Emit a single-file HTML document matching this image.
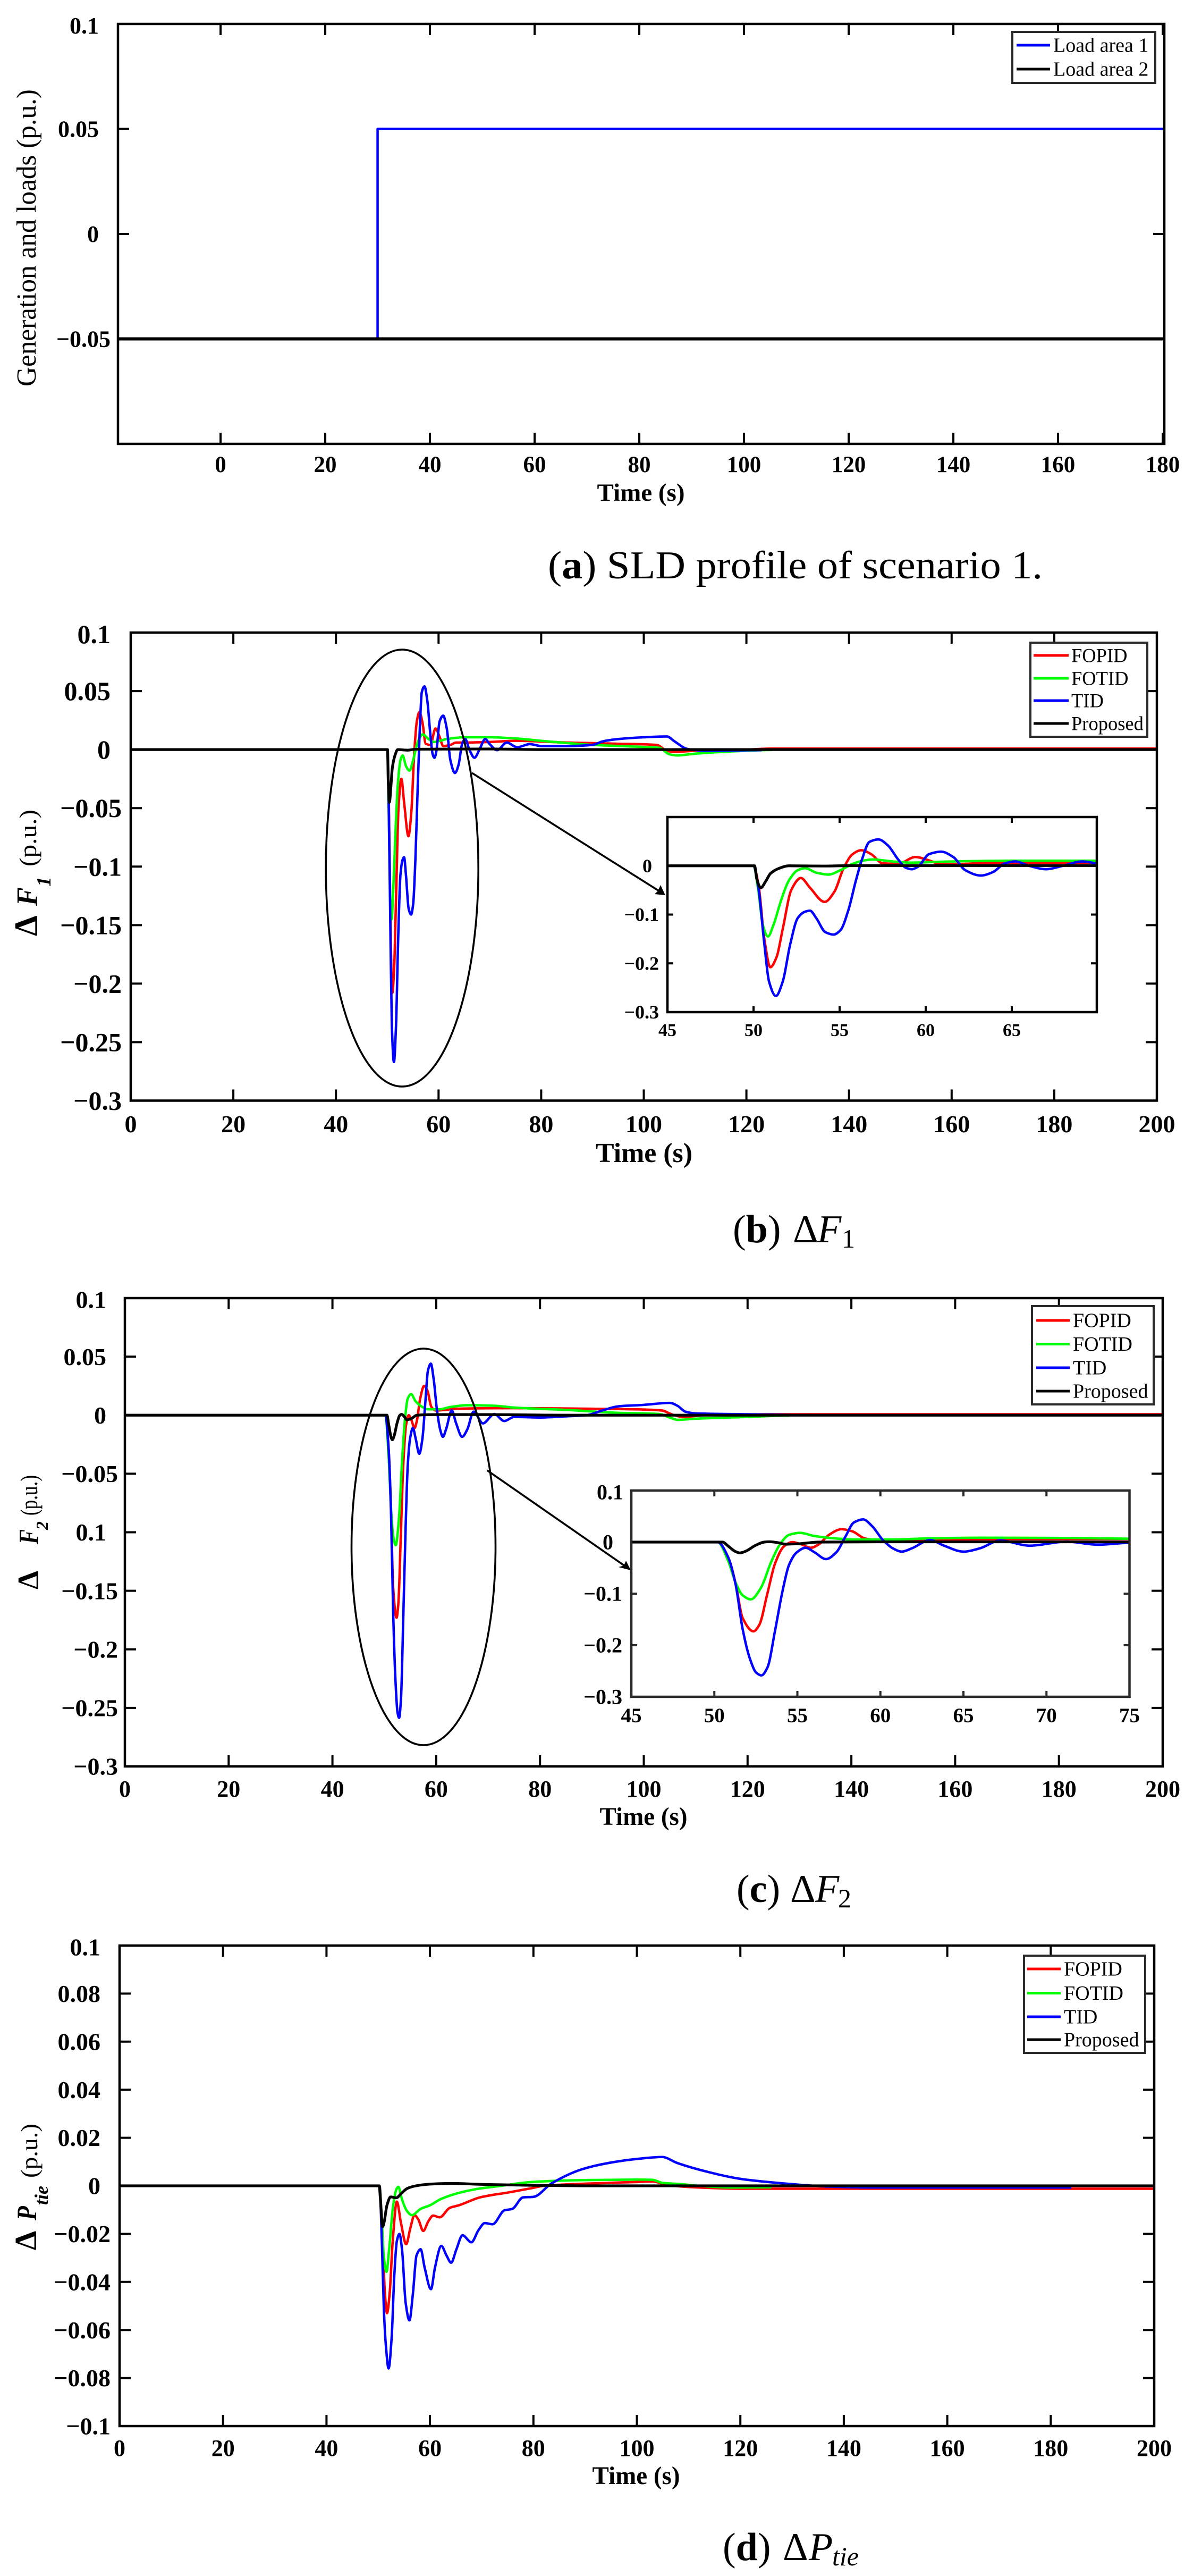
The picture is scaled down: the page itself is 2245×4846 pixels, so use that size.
<!DOCTYPE html>
<html lang="en">
<head>
<meta charset="utf-8">
<title>SLD response charts</title>
<style>
html,body{margin:0;padding:0;background:#fff}
svg{display:block}
text{font-family:"Liberation Serif",serif;fill:#000}
</style>
</head>
<body>
<svg id="page" xmlns="http://www.w3.org/2000/svg" width="2245" height="4846" viewBox="0 0 2245 4846">
<rect x="0" y="0" width="2245" height="4846" fill="#fff"/>

<g id="chart-a"></g>
<g id="chart-b"></g>
<g id="chart-c"></g>
<g id="chart-d"></g>

<g>
  <ellipse cx="756.7" cy="1633" rx="143.5" ry="411" fill="none" stroke="#000" stroke-width="3.6"/>
  <line x1="888" y1="1454" x2="1240" y2="1676" stroke="#000" stroke-width="3.6"/>
  <polygon points="1252,1684 1232,1682 1238,1676 1243,1665" fill="#000"/>
</g>
<g>
  <ellipse cx="797" cy="2910" rx="135.5" ry="373" fill="none" stroke="#000" stroke-width="3.6"/>
  <line x1="916.7" y1="2766" x2="1176" y2="2946" stroke="#000" stroke-width="3.6"/>
  <polygon points="1187,2954 1164,2948 1174,2945 1178,2936" fill="#000"/>
</g>

<g id="insets"></g>

<text transform="translate(67,447.5) rotate(-90) scale(1,1.3)" text-anchor="middle" font-size="40" textLength="559" lengthAdjust="spacingAndGlyphs">Generation and loads (p.u.)</text>

<g>
  <text transform="translate(70,1761) rotate(-90)" font-size="62" font-weight="bold">&#916;</text>
  <text transform="translate(70,1704) rotate(-90) scale(1,1.08)" font-size="52" font-weight="bold" font-style="italic">F</text>
  <text transform="translate(95,1668) rotate(-90)" font-size="38" font-weight="bold" font-style="italic">1</text>
  <text transform="translate(68,1630) rotate(-90)" font-size="46" textLength="107" lengthAdjust="spacingAndGlyphs">(p.u.)</text>
</g>
<g>
  <text transform="translate(72,2990) rotate(-90)" font-size="56" font-weight="bold">&#916;</text>
  <text transform="translate(72,2905) rotate(-90) scale(1,1.25)" font-size="42" font-weight="bold" font-style="italic">F</text>
  <text transform="translate(90,2878) rotate(-90)" font-size="32" font-weight="bold" font-style="italic">2</text>
  <text transform="translate(70,2851) rotate(-90) scale(1,1.25)" font-size="36" textLength="76" lengthAdjust="spacingAndGlyphs">(p.u.)</text>
</g>
<g>
  <text transform="translate(68,4233) rotate(-90)" font-size="58" font-weight="bold">&#916;</text>
  <text transform="translate(68,4177) rotate(-90) scale(1,1.2)" font-size="44" font-weight="bold" font-style="italic">P</text>
  <text transform="translate(90,4148) rotate(-90)" font-size="36" font-weight="bold" font-style="italic">tie</text>
  <text transform="translate(70,4097) rotate(-90)" font-size="44" textLength="102" lengthAdjust="spacingAndGlyphs">(p.u.)</text>
</g>

<text x="1031" y="1088" font-size="74" textLength="931" lengthAdjust="spacingAndGlyphs">(<tspan font-weight="bold">a</tspan>) SLD profile of scenario 1.</text>
<text y="2337" font-size="74"><tspan x="1379">(<tspan font-weight="bold">b</tspan>)</tspan><tspan x="1492">&#916;</tspan><tspan x="1538" font-style="italic">F</tspan><tspan x="1584" dy="10" font-size="50">1</tspan></text>
<text y="3578" font-size="74"><tspan x="1386">(<tspan font-weight="bold">c</tspan>)</tspan><tspan x="1487">&#916;</tspan><tspan x="1534" font-style="italic">F</tspan><tspan x="1577" dy="10" font-size="50">2</tspan></text>
<text y="4816" font-size="74"><tspan x="1360">(<tspan font-weight="bold">d</tspan>)</tspan><tspan x="1473">&#916;</tspan><tspan x="1522" font-style="italic">P</tspan><tspan x="1566" dy="10" font-size="50" font-style="italic">tie</tspan></text>
</svg>

<script>
/* ---------- chart a: load profiles ---------- */
const loadArea1T = [-20, 30, 30, 180];
const loadArea1V = [-0.05, -0.05, 0.05, 0.05];
const loadArea2T = [-20, 180];
const loadArea2V = [-0.05, -0.05];
const aXTicks = [0, 20, 40, 60, 80, 100, 120, 140, 160, 180];
const aXLabels = ['0', '20', '40', '60', '80', '100', '120', '140', '160', '180'];
const aYTicks = [0.1, 0.05, 0, -0.05];
const aYLabels = ['0.1', '0.05', '0', '\u22120.05'];

/* ---------- chart b: delta F1 ---------- */
const f1FopidT = [0, 50, 50.3, 50.63, 50.98, 51.34, 51.7, 52.2, 52.75, 53.28, 54.13, 54.7, 55.23, 55.76, 56.26, 56.83, 57.5, 58.4, 59.4, 60.2, 60.9, 62.3, 63.4, 65, 70, 75, 85, 95, 102.5, 104.5, 106, 110, 120, 125, 200];
const f1FopidV = [0, 0, -0.042, -0.15, -0.208, -0.187, -0.129, -0.049, -0.025, -0.045, -0.074, -0.053, -0.005, 0.024, 0.032, 0.024, 0.005, 0.004, 0.018, 0.011, 0.003, 0.004, 0.006, 0.006, 0.0065, 0.0075, 0.006, 0.005, 0.004, -0.001, -0.002, -0.001, 0, 0.0008, 0.0008];
const f1FotidT = [0, 50, 50.27, 50.54, 50.84, 51.16, 51.6, 52.04, 52.57, 53, 53.64, 54.34, 55.05, 55.76, 56.3, 56.9, 58.06, 59.1, 61.6, 65, 70, 75, 80, 90, 100, 103, 105, 106.5, 110, 120, 125];
const f1FotidV = [0, 0, -0.049, -0.121, -0.145, -0.121, -0.071, -0.031, -0.009, -0.005, -0.014, -0.018, -0.009, 0.004, 0.01, 0.013, 0.009, 0.0065, 0.009, 0.0105, 0.0105, 0.0095, 0.0075, 0.004, 0.0022, 0.0015, -0.004, -0.005, -0.0035, -0.001, -0.0003];
const f1TidT = [0, 50, 50.27, 50.63, 50.9, 51.3, 51.7, 52.13, 52.57, 53, 53.28, 53.64, 54.17, 54.65, 55.05, 55.5, 55.94, 56.3, 56.73, 57.26, 57.8, 58.4, 58.85, 59.2, 59.55, 60.2, 60.9, 61.6, 62.3, 63.2, 63.9, 64.6, 65.2, 66, 67, 67.97, 69.1, 69.9, 71.4, 73.3, 75.3, 77.8, 80, 85, 90, 92, 95, 100, 104.5, 106, 108.5, 112, 123];
const f1TidV = [0, 0, -0.042, -0.161, -0.237, -0.267, -0.237, -0.161, -0.107, -0.094, -0.092, -0.107, -0.136, -0.141, -0.132, -0.092, -0.031, 0.013, 0.049, 0.054, 0.042, 0.013, -0.004, -0.007, -0.002, 0.024, 0.029, 0.018, -0.009, -0.02, -0.013, 0.005, 0.009, 0, -0.007, 0, 0.009, 0.005, -0.0005, 0.006, 0.002, 0.0047, 0.003, 0.003, 0.004, 0.007, 0.009, 0.0105, 0.0112, 0.007, 0.0005, -0.001, -0.0005];
const f1ProposedT = [0, 50.06, 50.19, 50.42, 50.72, 50.98, 51.5, 52.04, 54, 55.5, 70, 80, 200];
const f1ProposedV = [0, 0, -0.027, -0.045, -0.031, -0.016, -0.005, 0, -0.0005, 0.0003, 0.0005, 0, 0];

/* ---------- chart c: delta F2 ---------- */
const f2FopidT = [0, 50.2, 50.84, 51.28, 51.7, 52.36, 52.7, 53.2, 53.66, 54.2, 54.7, 55.2, 55.82, 56.26, 56.9, 57.66, 58.3, 59.07, 59.9, 61.67, 63.8, 75, 90, 100, 103.5, 105.5, 107.5, 112, 125, 200];
const f2FopidV = [0, 0, -0.03, -0.08, -0.147, -0.173, -0.161, -0.099, -0.041, -0.008, 0, -0.004, -0.011, -0.005, 0.014, 0.025, 0.021, 0.007, 0.004, 0.0045, 0.0055, 0.006, 0.0055, 0.0048, 0.004, 0.0005, -0.0015, 0, 0.0008, 0.0008];
const f2FotidT = [0, 50.2, 50.84, 51.28, 51.7, 52.2, 52.8, 53.44, 53.98, 54.5, 55.17, 56, 57.34, 58.4, 60.6, 62.75, 66, 71.4, 75, 85, 95, 103, 105, 106.5, 110, 120, 128];
const f2FotidV = [0, 0, -0.037, -0.0785, -0.103, -0.111, -0.089, -0.037, -0.003, 0.014, 0.018, 0.012, 0.007, 0.005, 0.005, 0.007, 0.0085, 0.008, 0.0065, 0.0045, 0.002, 0.001, -0.002, -0.004, -0.003, -0.0015, -0.0003];
const f2TidT = [0, 50.2, 50.84, 51.28, 51.7, 52.14, 52.53, 52.84, 53.2, 53.66, 54.1, 54.5, 54.96, 55.5, 56.04, 56.73, 57.34, 57.9, 58.4, 58.96, 59.5, 60.15, 60.8, 61.28, 61.9, 63, 63.8, 65, 66, 67.2, 69, 71.2, 73.1, 75, 80, 85, 89, 92, 95, 100, 105, 106.5, 108, 110, 120, 133];
const f2TidV = [0, 0, -0.03, -0.082, -0.168, -0.226, -0.2535, -0.2585, -0.243, -0.171, -0.096, -0.044, -0.02, -0.011, -0.02, -0.033, -0.02, 0.011, 0.038, 0.044, 0.031, 0.004, -0.013, -0.0185, -0.012, 0.004, -0.0065, -0.0185, -0.012, 0.003, -0.007, 0.001, -0.005, -0.0015, -0.002, -0.001, 0, 0.004, 0.0075, 0.0088, 0.0105, 0.008, 0.003, 0.0015, 0.0008, 0];
const f2ProposedT = [0, 50.5, 50.84, 51.28, 51.54, 51.9, 52.47, 53, 53.33, 53.87, 54.3, 55.17, 56.26, 60, 70, 85, 200];
const f2ProposedV = [0, 0, -0.008, -0.0185, -0.021, -0.0175, -0.0065, 0, 0.0007, -0.0014, -0.004, -0.003, 0, 0.0005, 0.0005, 0, 0];

/* ---------- chart d: delta Ptie ---------- */
const ptFopidT = [0, 50.25, 50.7, 51.3, 51.7, 52.2, 52.8, 53.6, 54.4, 55.4, 56.2, 57, 57.75, 58.7, 59.7, 60.6, 61.9, 63.8, 65.6, 69.7, 75.6, 79.6, 82, 90, 100, 103, 106, 110, 120, 200];
const ptFopidV = [0, 0, -0.015, -0.045, -0.053, -0.045, -0.023, -0.0066, -0.0155, -0.0243, -0.0177, -0.0122, -0.014, -0.0188, -0.0147, -0.0124, -0.0131, -0.0092, -0.0081, -0.0048, -0.0026, -0.001, 0, 0.0009, 0.0016, 0.0018, 0.0003, -0.0005, -0.0012, -0.0012];
const ptFotidT = [0, 50.25, 50.7, 51.1, 51.6, 52.1, 52.9, 53.5, 53.9, 54.5, 55.5, 56.5, 58.2, 60, 62.1, 66.2, 69.7, 73.8, 79.6, 90, 100, 103, 105, 108, 112, 118, 126];
const ptFotidV = [0, 0, -0.0155, -0.03, -0.0358, -0.0265, -0.008, -0.0015, -0.0004, -0.005, -0.0103, -0.0122, -0.0096, -0.0081, -0.0055, -0.0026, -0.0011, 0, 0.0016, 0.0024, 0.0026, 0.0025, 0.0012, 0.0008, 0, -0.0007, -0.0006];
const ptTidT = [0, 50.25, 50.7, 51.1, 51.5, 52, 52.6, 53.1, 53.6, 54.1, 54.6, 55.3, 56.03, 56.7, 57.4, 58.2, 58.97, 60.2, 60.97, 62.2, 63.2, 64.1, 65.1, 66.3, 68, 69.4, 70.6, 72.1, 74.4, 75.9, 78, 80, 83.5, 89.4, 94.5, 100.5, 104.9, 107.8, 113.7, 120.3, 128.4, 137, 145, 184];
const ptTidV = [0, 0, -0.023, -0.052, -0.067, -0.076, -0.063, -0.0376, -0.023, -0.02, -0.0265, -0.0487, -0.056, -0.045, -0.029, -0.0264, -0.034, -0.043, -0.034, -0.025, -0.029, -0.032, -0.0265, -0.0206, -0.0235, -0.0184, -0.0155, -0.016, -0.0102, -0.0096, -0.0048, -0.0046, 0.001, 0.0069, 0.0095, 0.0113, 0.012, 0.0095, 0.0058, 0.0028, 0.001, -0.0003, -0.0007, -0.0007];
const ptProposedT = [0, 50.2, 50.4, 50.85, 51.1, 51.7, 52.4, 53.5, 54.4, 55.6, 57.3, 60, 64.1, 70, 80, 90, 200];
const ptProposedV = [0, 0, -0.005, -0.017, -0.0155, -0.008, -0.0046, -0.005, -0.0033, -0.0011, 0, 0.0007, 0.001, 0.0006, 0.0002, 0, 0];

/* ---------- tick labels ---------- */
const mainXTicks = [0, 20, 40, 60, 80, 100, 120, 140, 160, 180, 200];
const mainXLabels = ['0', '20', '40', '60', '80', '100', '120', '140', '160', '180', '200'];
const fYTicks = [0.1, 0.05, 0, -0.05, -0.1, -0.15, -0.2, -0.25, -0.3];
const f1YLabels = ['0.1', '0.05', '0', '\u22120.05', '\u22120.1', '\u22120.15', '\u22120.2', '\u22120.25', '\u22120.3'];
const f2YLabels = ['0.1', '0.05', '0', '\u22120.05', '0.1', '\u22120.15', '\u22120.2', '\u22120.25', '\u22120.3'];
const ptYTicks = [0.1, 0.08, 0.06, 0.04, 0.02, 0, -0.02, -0.04, -0.06, -0.08, -0.1];
const ptYLabels = ['0.1', '0.08', '0.06', '0.04', '0.02', '0', '\u22120.02', '\u22120.04', '\u22120.06', '\u22120.08', '\u22120.1'];
const insetBXTicks = [45, 50, 55, 60, 65];
const insetBXLabels = ['45', '50', '55', '60', '65'];
const insetBYTicks = [0, -0.1, -0.2, -0.3];
const insetBYLabels = ['0', '\u22120.1', '\u22120.2', '\u22120.3'];
const insetCXTicks = [45, 50, 55, 60, 65, 70, 75];
const insetCXLabels = ['45', '50', '55', '60', '65', '70', '75'];
const insetCYTicks = [0.1, 0, -0.1, -0.2, -0.3];
const insetCYLabels = ['0.1', '0', '\u22120.1', '\u22120.2', '\u22120.3'];
const legendNames = ['FOPID', 'FOTID', 'TID', 'Proposed'];
const legendColors = ['#ff0000', '#00ff00', '#0000ff', '#000000'];
const loadNames = ['Load area 1', 'Load area 2'];
const loadColors = ['#0000ff', '#000000'];

const NS = 'http://www.w3.org/2000/svg';
function mk(tag, attrs, parent) {
  const n = document.createElementNS(NS, tag);
  for (const k in attrs) n.setAttribute(k, attrs[k]);
  parent.appendChild(n);
  return n;
}

/* Monotone cubic path through the data points: no overshoot between samples. */
function smoothPath(ts, vs, sx, sy) {
  const n = ts.length;
  const m = [];
  for (let i = 0; i < n; i++) {
    if (i === 0 || i === n - 1) { m.push(0); continue; }
    const h0 = ts[i] - ts[i - 1], h1 = ts[i + 1] - ts[i];
    const d0 = (vs[i] - vs[i - 1]) / h0, d1 = (vs[i + 1] - vs[i]) / h1;
    if (d0 * d1 <= 0) { m.push(0); continue; }
    const w0 = 2 * h1 + h0, w1 = h1 + 2 * h0;
    m.push((w0 + w1) / (w0 / d0 + w1 / d1));
  }
  let d = 'M' + sx(ts[0]).toFixed(2) + ' ' + sy(vs[0]).toFixed(2);
  for (let i = 0; i < n - 1; i++) {
    const h = ts[i + 1] - ts[i];
    d += 'C' + sx(ts[i] + h / 3).toFixed(2) + ' ' + sy(vs[i] + m[i] * h / 3).toFixed(2) + ' ' +
      sx(ts[i + 1] - h / 3).toFixed(2) + ' ' + sy(vs[i + 1] - m[i + 1] * h / 3).toFixed(2) + ' ' +
      sx(ts[i + 1]).toFixed(2) + ' ' + sy(vs[i + 1]).toFixed(2);
  }
  return d;
}
function linearPath(ts, vs, sx, sy) {
  return ts.map((t, i) => (i ? 'L' : 'M') + sx(t).toFixed(2) + ' ' + sy(vs[i]).toFixed(2)).join('');
}

let clipCount = 0;
function drawAxes(g, c) {
  const sx = t => c.left + (t - c.xmin) / (c.xmax - c.xmin) * (c.right - c.left);
  const sy = v => c.bottom - (v - c.ymin) / (c.ymax - c.ymin) * (c.bottom - c.top);

  const bg = mk('rect', { x: c.left, y: c.top, width: c.right - c.left, height: c.bottom - c.top, fill: '#fff' }, g);
  
  

  c.xTicks.forEach((t, i) => {
    const tb = mk('line', { x1: sx(t), x2: sx(t), y1: c.bottom, y2: c.bottom - c.tick, stroke: c.frameColor, 'stroke-width': 4 }, g);
    
    
    const tt = mk('line', { x1: sx(t), x2: sx(t), y1: c.top, y2: c.top + c.tick, stroke: c.frameColor, 'stroke-width': 4 }, g);
    
    
    const lab = mk('text', { x: sx(t), y: c.xBase, 'text-anchor': 'middle', 'font-size': c.xFont, 'font-weight': 'bold' }, g);
    lab.textContent = c.xLabels[i];
    
    
  });
  c.yTicks.forEach((v, i) => {
    const tl = mk('line', { x1: c.left, x2: c.left + c.tick, y1: sy(v), y2: sy(v), stroke: c.frameColor, 'stroke-width': 4 }, g);
    
    
    const tr = mk('line', { x1: c.right, x2: c.right - c.tick, y1: sy(v), y2: sy(v), stroke: c.frameColor, 'stroke-width': 4 }, g);
    
    
    const s = c.yLabels[i];
    const end = s === '0' ? c.endZero : (s.charAt(0) === '\u2212' ? c.endNeg : c.endPos);
    const lab = mk('text', { x: end, y: sy(v) + c.yFont * 0.34 + (i === 0 && v === c.ymax ? 3 : 0), 'text-anchor': 'end', 'font-size': c.yFont, 'font-weight': 'bold' }, g);
    lab.textContent = s;
    
    
  });

  const id = 'clip' + (clipCount++);
  const cp = mk('clipPath', { id: id }, g);
  mk('rect', { x: c.left, y: c.top, width: c.right - c.left, height: c.bottom - c.top }, cp);

  c.series.forEach(s => {
    const d = s.step ? linearPath(s.t, s.v, sx, sy) : smoothPath(s.t, s.v, sx, sy);
    const p = mk('path', { d: d, fill: 'none', stroke: s.color, 'stroke-width': s.width, 'stroke-linejoin': 'round', 'clip-path': 'url(#' + id + ')' }, g);
    
    
  });

  const fr = mk('rect', { x: c.left, y: c.top, width: c.right - c.left, height: c.bottom - c.top, fill: 'none', stroke: c.frameColor, 'stroke-width': c.frameWidth }, g);
  
  

  if (c.title) {
    const ti = mk('text', { x: c.title.x, y: c.title.y, 'text-anchor': 'middle', 'font-size': c.title.size, 'font-weight': 'bold', textLength: c.title.len, lengthAdjust: 'spacingAndGlyphs' }, g);
    ti.textContent = 'Time (s)';
    
    
  }
}

function drawLegend(g, L, names, colors) {
  const box = mk('rect', { x: L.left, y: L.top, width: L.right - L.left, height: L.bottom - L.top, fill: '#fff', stroke: '#2a2a2a', 'stroke-width': 4 }, g);
  
  
  names.forEach((nm, i) => {
    const ln = mk('line', { x1: L.lx0, x2: L.lx1, y1: L.ys[i], y2: L.ys[i], stroke: colors[i], 'stroke-width': 5 }, g);
    
    
    const tx = mk('text', { x: L.tx, y: L.ys[i] + 12.5, 'font-size': L.font }, g);
    tx.textContent = nm;
    
    
  });
}

function four(fo, fot, ti, pr, w) {
  return [
    { name: 'fopid', t: fo[0], v: fo[1], color: '#ff0000', width: w },
    { name: 'fotid', t: fot[0], v: fot[1], color: '#00ff00', width: w },
    { name: 'tid', t: ti[0], v: ti[1], color: '#0000ff', width: w },
    { name: 'proposed', t: pr[0], v: pr[1], color: '#000000', width: w + 0.6 }
  ];
}

const f1 = [[f1FopidT, f1FopidV], [f1FotidT, f1FotidV], [f1TidT, f1TidV], [f1ProposedT, f1ProposedV]];
const f2 = [[f2FopidT, f2FopidV], [f2FotidT, f2FotidV], [f2TidT, f2TidV], [f2ProposedT, f2ProposedV]];
const pt = [[ptFopidT, ptFopidV], [ptFotidT, ptFotidV], [ptTidT, ptTidV], [ptProposedT, ptProposedV]];

/* Chart a */
const gA = document.getElementById('chart-a');
drawAxes(gA, {
  left: 222, right: 2191, top: 45, bottom: 835, xmin: -19.6, xmax: 180.3, ymin: -0.1, ymax: 0.1,
  tick: 21, frameColor: '#000', frameWidth: 4.5,
  xTicks: aXTicks, xLabels: aXLabels, yTicks: aYTicks, yLabels: aYLabels,
  xBase: 888, xFont: 43, yFont: 44, endPos: 186, endZero: 186, endNeg: 208,
  title: { x: 1206, y: 942, size: 47, len: 165 },
  series: [
    { name: 'load-area-1', t: loadArea1T, v: loadArea1V, color: '#0000ff', width: 4.5, step: true },
    { name: 'load-area-2', t: loadArea2T, v: loadArea2V, color: '#000000', width: 6, step: true }
  ]
});
drawLegend(gA, { left: 1905, right: 2174, top: 60, bottom: 156, lx0: 1913, lx1: 1976, tx: 1982, ys: [85, 130], font: 38 }, loadNames, loadColors);

/* Chart b */
const gB = document.getElementById('chart-b');
drawAxes(gB, {
  left: 246, right: 2177, top: 1190, bottom: 2070.5, xmin: 0, xmax: 200, ymin: -0.3, ymax: 0.1,
  tick: 21, frameColor: '#000', frameWidth: 4.5,
  xTicks: mainXTicks, xLabels: mainXLabels, yTicks: fYTicks, yLabels: f1YLabels,
  xBase: 2130, xFont: 46, yFont: 50, endPos: 208, endZero: 208, endNeg: 229,
  title: { x: 1212, y: 2186, size: 52, len: 182 },
  series: four(f1[0], f1[1], f1[2], f1[3], 4.6)
});
drawLegend(gB, { left: 1939, right: 2159, top: 1209, bottom: 1386, lx0: 1945, lx1: 2011, tx: 2016, ys: [1233, 1276, 1318, 1361], font: 36.5 }, legendNames, legendColors);

/* Chart c */
const gC = document.getElementById('chart-c');
drawAxes(gC, {
  left: 235, right: 2188, top: 2442, bottom: 3323, xmin: 0, xmax: 200, ymin: -0.3, ymax: 0.1,
  tick: 21, frameColor: '#000', frameWidth: 4.5,
  xTicks: mainXTicks, xLabels: mainXLabels, yTicks: fYTicks, yLabels: f2YLabels,
  xBase: 3380, xFont: 44, yFont: 46, endPos: 200, endZero: 200, endNeg: 222,
  title: { x: 1211, y: 3433, size: 48, len: 165 },
  series: four(f2[0], f2[1], f2[2], f2[3], 4.6)
});
drawLegend(gC, { left: 1942, right: 2171, top: 2457, bottom: 2642, lx0: 1950, lx1: 2013, tx: 2019, ys: [2484, 2528.5, 2573, 2617], font: 38 }, legendNames, legendColors);

/* Chart d */
const gD = document.getElementById('chart-d');
drawAxes(gD, {
  left: 225, right: 2172, top: 3660, bottom: 4564, xmin: 0, xmax: 200, ymin: -0.1, ymax: 0.1,
  tick: 21, frameColor: '#000', frameWidth: 4.5,
  xTicks: mainXTicks, xLabels: mainXLabels, yTicks: ptYTicks, yLabels: ptYLabels,
  xBase: 4620, xFont: 44, yFont: 46, endPos: 189, endZero: 189, endNeg: 208,
  title: { x: 1197, y: 4673, size: 48, len: 165 },
  series: four(pt[0], pt[1], pt[2], pt[3], 4.6)
});
drawLegend(gD, { left: 1927, right: 2155, top: 3679, bottom: 3862, lx0: 1933, lx1: 1996, tx: 2002, ys: [3704, 3749.5, 3794, 3837], font: 38 }, legendNames, legendColors);

/* Insets */
const insets = document.getElementById('insets');
const gIB = mk('g', {}, insets);


drawAxes(gIB, {
  left: 1256, right: 2064, top: 1537, bottom: 1904, xmin: 45, xmax: 69.94, ymin: -0.3, ymax: 0.1,
  tick: 11, frameColor: '#000', frameWidth: 4.5,
  xTicks: insetBXTicks, xLabels: insetBXLabels, yTicks: insetBYTicks, yLabels: insetBYLabels,
  xBase: 1949, xFont: 34, yFont: 36, endPos: 1240, endZero: 1227, endNeg: 1240,
  series: four(f1[0], f1[1], f1[2], f1[3], 4.6)
});
const gIC = mk('g', {}, insets);


drawAxes(gIC, {
  left: 1188, right: 2125.5, top: 2804, bottom: 3192, xmin: 45, xmax: 75, ymin: -0.3, ymax: 0.1,
  tick: 11, frameColor: '#2a2a2a', frameWidth: 4.5,
  xTicks: insetCXTicks, xLabels: insetCXLabels, yTicks: insetCYTicks, yLabels: insetCYLabels,
  xBase: 3240, xFont: 39, yFont: 40, endPos: 1173, endZero: 1154, endNeg: 1171,
  series: four(f2[0], f2[1], f2[2], f2[3], 4.6)
});
</script>
</body>
</html>
